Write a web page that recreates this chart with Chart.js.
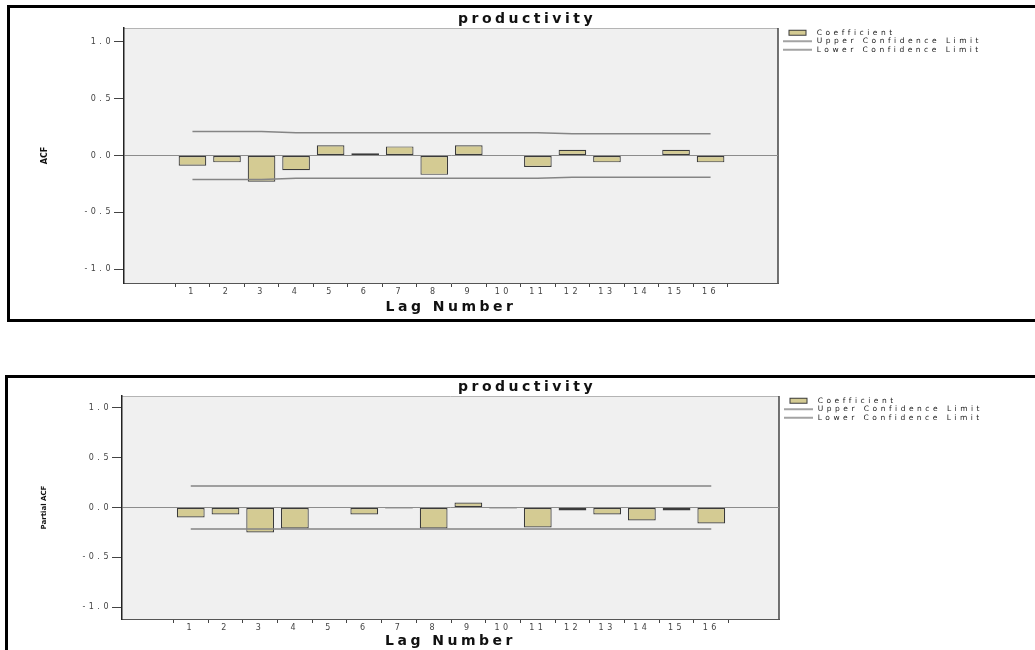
<!DOCTYPE html>
<html>
<head>
<meta charset="utf-8">
<script src="https://cdn.jsdelivr.net/npm/chart.js@4.4.1/dist/chart.umd.min.js"></script>
<style>
    html, body { margin: 0; padding: 0; background: #fff; overflow: hidden; width: 1035px; height: 650px; }
    .frame { position: absolute; border: 3px solid #000; width: 1100px; }
    canvas { position: absolute; left: 0; }
</style>
</head>
<body>
<div class="frame" style="left:7px; top:5px; height:311px;"></div>
<div class="frame" style="left:5px; top:375px; height:400px;"></div>
<canvas id="acfChart" width="1035" height="320" style="top:0"></canvas>
<canvas id="pacfChart" width="1035" height="272" style="top:378px"></canvas>
<script>
// Lags and tick values
const lags = [1, 2, 3, 4, 5, 6, 7, 8, 9, 10, 11, 12, 13, 14, 15, 16];
const yTicks = [-1.0, -0.5, 0.0, 0.5, 1.0];

// ACF coefficients and confidence limits
const acfValues = [-0.09, -0.06, -0.23, -0.13, 0.09, 0.02, 0.08, -0.17, 0.09, -0.005, -0.10, 0.05, -0.06, 0.00, 0.05, -0.06];
const acfUpper = [0.21, 0.21, 0.21, 0.20, 0.20, 0.20, 0.20, 0.20, 0.20, 0.20, 0.20, 0.19, 0.19, 0.19, 0.19, 0.19];
const acfLower = [-0.21, -0.21, -0.21, -0.20, -0.20, -0.20, -0.20, -0.20, -0.20, -0.20, -0.20, -0.19, -0.19, -0.19, -0.19, -0.19];

// Partial ACF coefficients and confidence limits
const pacfValues = [-0.10, -0.07, -0.25, -0.21, -0.005, -0.07, -0.01, -0.21, 0.05, -0.01, -0.20, -0.03, -0.07, -0.13, -0.03, -0.16];
const pacfUpper = [0.215, 0.215, 0.215, 0.215, 0.215, 0.215, 0.215, 0.215, 0.215, 0.215, 0.215, 0.215, 0.215, 0.215, 0.215, 0.215];
const pacfLower = [-0.215, -0.215, -0.215, -0.215, -0.215, -0.215, -0.215, -0.215, -0.215, -0.215, -0.215, -0.215, -0.215, -0.215, -0.215, -0.215];

const barFill = '#d4cb93';
const barEdge = '#3a3a3a';
const limitColor = '#858585';
const textSpacing = '3.5px'; // the SPSS export is stretched wide
const titleCenter = 527;

Chart.defaults.font.family = "'DejaVu Sans', sans-serif";

// plot background, top/right edges, and letter spacing for the wide text
const plotBox = {
    id: 'plotBox',
    beforeLayout(chart) { chart.ctx.letterSpacing = textSpacing; },
    beforeDraw(chart) {
        const { ctx, chartArea: a } = chart;
        ctx.letterSpacing = textSpacing;
        ctx.save();
        ctx.fillStyle = '#f0f0f0';
        ctx.fillRect(a.left, a.top, a.width, a.height);
        ctx.strokeStyle = '#b4b4b4';
        ctx.lineWidth = 1;
        ctx.beginPath();
        ctx.moveTo(a.left, a.top + 0.5);
        ctx.lineTo(a.right, a.top + 0.5);
        ctx.stroke();
        ctx.strokeStyle = '#444';
        ctx.lineWidth = 1.5;
        ctx.beginPath();
        ctx.moveTo(a.right, a.top);
        ctx.lineTo(a.right, a.bottom);
        ctx.stroke();
        ctx.restore();
    },
    beforeDatasetsDraw(chart) { chart.ctx.letterSpacing = '0px'; } // y title drawn later without spacing
};

function legendIcon(kind) {
    const c = document.createElement('canvas');
    c.width = 34;
    c.height = 8;
    const g = c.getContext('2d');
    if (kind === 'bar') {
        g.fillStyle = barFill;
        g.fillRect(10, 1.5, 17, 5);
        g.strokeStyle = barEdge;
        g.lineWidth = 1;
        g.strokeRect(10, 1.5, 17, 5);
    } else {
        g.strokeStyle = limitColor;
        g.lineWidth = 1.5;
        g.beginPath();
        g.moveTo(4, 4);
        g.lineTo(33, 4);
        g.stroke();
    }
    return c;
}

function drawCorrelogram(id, values, upper, lower, yTitle, box) {
    const points = arr => lags.map((lag, i) => ({ x: lag, y: arr[i] }));
    const limitLine = (label, arr) => ({
        type: 'line',
        label: label,
        data: points(arr),
        borderColor: limitColor,
        borderWidth: 1.5,
        pointRadius: 0,
        pointHoverRadius: 0,
        fill: false,
        pointStyle: legendIcon('line'),
        order: 1
    });

    const chart = new Chart(document.getElementById(id), {
        type: 'bar',
        data: {
            datasets: [{
                type: 'bar',
                label: 'Coefficient',
                data: points(values),
                backgroundColor: barFill,
                borderColor: barEdge,
                borderWidth: 1.2,
                borderSkipped: false,
                barPercentage: 0.8,
                categoryPercentage: 1,
                pointStyle: legendIcon('bar'),
                order: 2
            },
            limitLine('Upper Confidence Limit', upper),
            limitLine('Lower Confidence Limit', lower)]
        },
        options: {
            responsive: false,
            animation: false,
            layout: { padding: { left: 60, right: 40, top: 0, bottom: 0 } },
            plugins: {
                title: {
                    display: true,
                    text: 'productivity',
                    color: '#111',
                    font: { size: 14, weight: 'bold' },
                    padding: { top: box.titleTop, bottom: 0 }
                },
                legend: {
                    position: 'right',
                    align: 'start',
                    fullSize: false,
                    labels: {
                        usePointStyle: true,
                        pointStyleWidth: 34,
                        color: '#222',
                        font: { size: 7.5 },
                        padding: 1,
                        sort: (a, b) => a.datasetIndex - b.datasetIndex
                    }
                },
                tooltip: { enabled: false }
            },
            scales: {
                x: {
                    type: 'linear',
                    min: -0.39,
                    max: 17.36,
                    afterBuildTicks: s => { s.ticks = lags.map(v => ({ value: v })); },
                    afterFit: s => { s.height = box.xHeight; },
                    grid: { drawOnChartArea: false, tickLength: 4, tickColor: '#444' },
                    border: { color: '#555' },
                    ticks: { padding: 0, color: '#444', font: { size: 8 }, maxRotation: 0, autoSkip: false },
                    title: {
                        display: true,
                        text: 'Lag Number',
                        color: '#111',
                        font: { size: 14, weight: 'bold' },
                        padding: { top: 0, bottom: box.xTitleBottom }
                    }
                },
                y: {
                    min: -1.12,
                    max: 1.12,
                    afterBuildTicks: s => { s.ticks = yTicks.map(v => ({ value: v })); },
                    afterFit: s => { s.width = box.yWidth; },
                    grid: {
                        z: 1,
                        color: c => (c.tick && c.tick.value === 0) ? '#8c8c8c' : 'rgba(0,0,0,0)',
                        tickColor: '#444',
                        tickLength: 10
                    },
                    border: { color: '#222', width: 1.5, z: 1 },
                    ticks: { padding: 0, color: '#444', font: { size: 8 }, callback: v => v.toFixed(1) },
                    title: {
                        display: true,
                        text: yTitle,
                        color: '#111',
                        font: { size: box.yTitleSize, weight: 'bold' },
                        padding: { top: 0, bottom: 0 }
                    }
                }
            }
        },
        plugins: [plotBox]
    });

    // second pass: size the paddings round the legend's own width so the plot
    // area and the centred title land where the reference has them
    const lw = chart.legend.width;
    const padL = 2 * titleCenter - box.right - lw;
    const padR = chart.width - box.right - lw;
    chart.options.layout.padding = { left: padL, right: padR, top: 0, bottom: 0 };
    box.yWidth = box.left - padL;
    chart.options.scales.y.title.padding = { top: box.yTitleX - padL - box.yTitleSize * 0.6, bottom: 0 };
    chart.update();
    return chart;
}

drawCorrelogram('acfChart', acfValues, acfUpper, acfLower, 'ACF', {
    left: 124, right: 778, titleTop: 11.2, xHeight: 37, xTitleBottom: 4.6, yWidth: 60, yTitleX: 45, yTitleSize: 8
});
drawCorrelogram('pacfChart', pacfValues, pacfUpper, pacfLower, 'Partial ACF', {
    left: 122, right: 779, titleTop: 1.2, xHeight: 31, xTitleBottom: 0.6, yWidth: 60, yTitleX: 44, yTitleSize: 7
});
</script>
</body>
</html>
